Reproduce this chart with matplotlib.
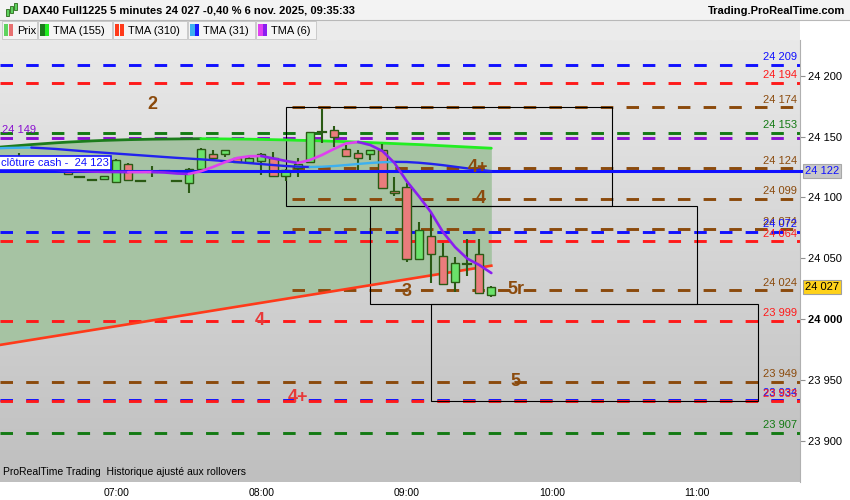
import numpy as np
import matplotlib.pyplot as plt
import matplotlib.transforms as mtransforms
from matplotlib.colors import LinearSegmentedColormap
from matplotlib.patches import Rectangle
from matplotlib.lines import Line2D

plt.rcParams['lines.scale_dashes'] = False
plt.rcParams['font.family'] = ['Liberation Sans', 'DejaVu Sans']

W, H = 850, 500

# bar index 0 = 07:00, one bar = 5 minutes
bar_idx = list(range(-9, 32))
opens = [24124, 24127, 24126, 24124, 24125, 24123.4, 24117, 24114.3, 24115.2, 24112.7,
         24127.5, 24113.5, 24120.9, 24121.7, 24113.5, 24111.9, 24123.4, 24135.7, 24135.7, 24132.4,
         24129.1, 24129.9, 24132.4, 24117.6, 24124.2, 24129.1, 24153.5, 24155.3, 24139.8, 24136.5,
         24135.7, 24138.9, 24105.3, 24108.6, 24049.6, 24068.4, 24052.1, 24030.7, 24045.5, 24053.7,
         24020]
highs = [24127, 24136.5, 24128, 24127, 24126, 24125, 24117.5, 24114.8, 24118, 24131.6,
         24128, 24114, 24125.8, 24122, 24114, 24124, 24140.6, 24138.9, 24139, 24133,
         24133, 24136.5, 24137.3, 24123, 24132.4, 24154, 24172.5, 24158.6, 24143, 24138.9,
         24139.3, 24143.9, 24116.8, 24111.9, 24079.9, 24087.3, 24062.7, 24051.2, 24066, 24066,
         24027.5]
lows = [24121, 24124, 24122, 24121, 24120, 24118.5, 24116.5, 24113.8, 24115, 24111.9,
        24114, 24113, 24116.8, 24121.4, 24113, 24103.7, 24123, 24132, 24133.2, 24128.5,
        24128.5, 24118.4, 24117, 24113.5, 24116.8, 24128.5, 24144.7, 24141.4, 24133.5, 24120.1,
        24130.7, 24107, 24101.2, 24047.1, 24049, 24029.9, 24028.5, 24022.5, 24035.7, 24021,
        24018.4]
closes = [24125, 24128, 24124, 24125, 24122, 24119.3, 24117, 24114.3, 24117.6, 24130.7,
          24114.3, 24113.5, 24120.9, 24121.7, 24113.5, 24123.4, 24139.8, 24132.4, 24138.9, 24129.1,
          24132.4, 24135.7, 24117.6, 24122.5, 24127.5, 24153.7, 24154, 24149.6, 24134, 24132.4,
          24138.9, 24107.8, 24103.7, 24049.6, 24073.4, 24053.7, 24029.1, 24046.3, 24045.8, 24021.7,
          24027]

ma_idx = list(range(-10, 32))
tma155 = [24141.0, 24141.8, 24142.6, 24143.4, 24144.1, 24144.8, 24145.4, 24145.9, 24146.4, 24146.8,
          24147.1, 24147.4, 24147.6, 24147.8, 24147.9, 24148.0, 24148.1, 24148.2, 24148.1, 24148.0,
          24147.9, 24147.8, 24147.6, 24147.4, 24147.2, 24146.9, 24146.7, 24146.4, 24146.1, 24145.8,
          24145.4, 24145.0, 24144.6, 24144.2, 24143.8, 24143.4, 24142.9, 24142.4, 24141.9, 24141.4,
          24140.9, 24140.4]
tma310 = [23978.5, 23980.1, 23981.7, 23983.3, 23984.9, 23986.5, 23988.1, 23989.7, 23991.3, 23992.9,
          23994.5, 23996.1, 23997.7, 23999.3, 24000.9, 24002.5, 24004.1, 24005.7, 24007.3, 24008.9,
          24010.5, 24012.1, 24013.7, 24015.3, 24016.9, 24018.5, 24020.1, 24021.7, 24023.3, 24024.9,
          24026.5, 24028.1, 24029.7, 24031.3, 24032.9, 24034.5, 24036.1, 24037.7, 24039.3, 24040.9,
          24042.5, 24044.1]
tma31 = [24140.2, 24140.6, 24140.8, 24140.9, 24140.4, 24139.8, 24139.0, 24138.2, 24137.4, 24136.7,
         24136.0, 24135.3, 24134.6, 24133.9, 24133.2, 24132.5, 24131.9, 24131.3, 24130.6, 24129.8,
         24129.0, 24128.2, 24127.4, 24126.6, 24125.8, 24125.3, 24125.0, 24125.2, 24125.8, 24126.6,
         24127.5, 24128.3, 24128.9, 24129.2, 24129.1, 24128.5, 24127.6, 24126.5, 24125.2, 24123.9,
         24122.7, 24121.6]
tma6 = [24126.0, 24125.5, 24125.0, 24124.2, 24123.5, 24122.8, 24122.2, 24121.7, 24121.3, 24121.0,
        24120.9, 24120.8, 24120.8, 24120.9, 24120.5, 24119.7, 24119.3, 24121.5, 24125.0, 24129.0,
        24132.4, 24133.8, 24134.0, 24132.0, 24130.0, 24128.3, 24130.7, 24134.8, 24139.8, 24144.3,
        24145.5, 24143.0, 24138.1, 24128.3, 24113.5, 24101.2, 24088.1, 24071.7, 24059.4, 24050.0,
        24044.7, 24038.1]

# horizontal levels
level_prices = [24209, 24194, 24174, 24153, 24149, 24124, 24099, 24074, 24072, 24064,
                24024, 23999, 23949, 23934, 23933, 23907]
level_colors = ['#1010ff', '#ff1a1a', '#8b4a0c', '#137a13', '#8a10d0', '#8b4a0c', '#8b4a0c', '#8b4a0c',
                '#1010ff', '#ff1a1a', '#8b4a0c', '#ff1a1a', '#8b4a0c', '#1010ff', '#ff1a1a', '#137a13']
level_labels = ['24 209', '24 194', '24 174', '24 153', '', '24 124', '24 099', '24 074',
                '24 072', '24 064', '24 024', '23 999', '23 949', '23 934', '23 933', '23 907']
level_start = [-9.6, -9.6, 14.5, -9.6, -9.6, 14.5, 14.5, 14.5, -9.6, -9.6,
               14.5, -9.6, -9.6, -9.6, -9.6, -9.6]
cash_close = 24122

# rectangles (bar index, price)
box_left = [14, 21, 26]
box_right = [41, 48, 53]
box_top = [24174, 24093, 24013]
box_bottom = [24093, 24013, 23933]

# wave labels
note_text = ['2', '4+', '4', '3', '5r', '5', '4', '4+']
note_x = [3.0, 29.9, 30.1, 24.0, 33.0, 33.0, 11.9, 15.0]
note_y = [24176.6, 24125, 24098.8, 24023, 24024.6, 23949, 23998.8, 23935.7]
note_col = ['#8b4a0c'] * 6 + ['#e83838'] * 2

time_ticks = [0, 12, 24, 36, 48]
time_labels = ['07:00', '08:00', '09:00', '10:00', '11:00']
price_ticks = [23900, 23950, 24000, 24050, 24100, 24150, 24200]

XMIN, XMAX = -9.59, 56.5
YMIN, YMAX = 23866.8, 24229.1

fig = plt.figure(figsize=(W / 100, H / 100), dpi=100)
fig.patch.set_facecolor('white')


def fpx(x, y):
    return x / W, 1 - y / H


def frect(x0, y0, x1, y1, fc, ec='none', lw=0.8):
    r = Rectangle((x0 / W, 1 - y1 / H), (x1 - x0) / W, (y1 - y0) / H,
                  transform=fig.transFigure, facecolor=fc, edgecolor=ec, lw=lw)
    fig.add_artist(r)


# header
frect(0, 0, W, 20, '#f3f3f3')
fig.add_artist(Line2D([0, 1], [1 - 20 / H] * 2, transform=fig.transFigure, color='#b8b8b8', lw=0.8))
frect(0, 20, 800, 40, '#ebebeb')
for x0, x1, y0, y1 in [(6, 9, 9, 16), (10, 13, 6, 13), (14, 17, 3, 10)]:
    frect(x0, y0, x1, y1, '#5fd35f', '#2a6a1a', 0.6)
fig.text(*fpx(23, 10.5), 'DAX40 Full1225 5 minutes 24 027 -0,40 % 6 nov. 2025, 09:35:33',
         fontsize=8, fontweight='bold', va='center', ha='left')
fig.text(*fpx(845, 10.5), 'Trading.ProRealTime.com', fontsize=8, fontweight='bold',
         va='center', ha='right')

legend_cells = [(2, 37, 'Prix', ('#5fd35f', '#e87070')),
                (38, 112, 'TMA (155)', ('#1c7c1c', '#22ee22')),
                (113, 187, 'TMA (310)', ('#ff3a1a', '#ff3a1a')),
                (188, 255, 'TMA (31)', ('#3cb0f0', '#1a1aff')),
                (256, 316, 'TMA (6)', ('#e040f0', '#8a1ef0'))]
for x0, x1, name, (c1, c2) in legend_cells:
    frect(x0, 21, x1, 39, '#f4f4f4', '#c4c4c4', 0.6)
    frect(x0 + 2, 24, x0 + 6.5, 36, c1)
    frect(x0 + 6.5, 24, x0 + 11, 36, c2)
    fig.text(*fpx(x0 + 15, 30.5), name, fontsize=8, va='center', ha='left')

ax = fig.add_axes([0, 18 / H, 800 / W, 442 / H])
ax.set_xlim(XMIN, XMAX)
ax.set_ylim(YMIN, YMAX)

# background gradient
bg = LinearSegmentedColormap.from_list('bg', ['#bfbfbf', '#e9e9e9'])
ax.imshow(np.linspace(0, 1, 256).reshape(-1, 1), extent=[XMIN, XMAX, YMIN, YMAX],
          origin='lower', aspect='auto', cmap=bg, zorder=0)

# zone between the two long averages
ax.fill_between(ma_idx, tma310, tma155, color='#a6c3a3', lw=0, zorder=1)

# horizontal levels
for p, c, s in zip(level_prices, level_colors, level_start):
    ax.plot([s, XMAX], [p, p], color=c, lw=2.1, dashes=(9, 9.5), zorder=2,
            solid_capstyle='butt', dash_capstyle='butt')
ax.plot([XMIN, XMAX + 0.6], [cash_close, cash_close], color='#1010ff', lw=2.2, zorder=7,
        clip_on=False)

# boxes
for l, r, t, b in zip(box_left, box_right, box_top, box_bottom):
    ax.add_patch(Rectangle((l, b), r - l, t - b, fill=False, ec='black', lw=0.8, zorder=3))

# candles
edge = '#2a5a14'
for k, o, h, l, c in zip(bar_idx, opens, highs, lows, closes):
    ax.plot([k, k], [l, h], color=edge, lw=1.5, zorder=5, solid_capstyle='butt')
    if abs(c - o) < 1:
        ax.plot([k - 0.36, k + 0.36], [o, o], color=edge, lw=1.6, zorder=6)
    else:
        ax.bar(k, abs(c - o), bottom=min(o, c), width=0.68,
               color='#6ae26a' if c > o else '#ea7c7c', edgecolor=edge, lw=1.0, zorder=6)


def slope_line(xs, ys, up, down, lw, z):
    xs = np.asarray(xs, float)
    ys = np.asarray(ys, float)
    d = np.diff(ys)
    start = 0
    for i in range(1, len(d) + 1):
        if i == len(d) or (d[i] >= 0) != (d[start] >= 0):
            col = up if d[start] >= 0 else down
            ax.plot(xs[start:i + 1], ys[start:i + 1], color=col, lw=lw, zorder=z,
                    solid_capstyle='round')
            start = i


slope_line(ma_idx, tma155, '#1c7c1c', '#22ee22', 2.0, 4)
ax.plot(ma_idx, tma310, color='#ff3a1a', lw=1.9, zorder=4)
slope_line(ma_idx, tma31, '#3cb0f0', '#2222ee', 1.7, 8)
slope_line(ma_idx, tma6, '#e040f0', '#8a1ef0', 1.9, 8)

# level labels inside the plot, right side
for p, c, t in zip(level_prices, level_colors, level_labels):
    if t:
        ax.annotate(t, xy=(0.996, p), xycoords=('axes fraction', 'data'),
                    xytext=(0, 1.8), textcoords='offset points',
                    ha='right', va='bottom', fontsize=8, color=c, zorder=9)
ax.annotate('24 149', xy=(0.003, 24149), xycoords=('axes fraction', 'data'),
            xytext=(0, 2), textcoords='offset points', ha='left', va='bottom',
            fontsize=8, color='#8a10d0', zorder=9)
ax.text(0.001, 24128.3, 'clôture cash -  24 123', transform=ax.get_yaxis_transform(),
        fontsize=8, color='#1010ff', ha='left', va='center', zorder=10,
        bbox=dict(boxstyle='square,pad=0.22', fc='white', ec='#1010ff', lw=1.2))

for t, x, y, c in zip(note_text, note_x, note_y, note_col):
    ax.text(x, y, t, color=c, fontsize=13, fontweight='bold', ha='center', va='center', zorder=9)

ax.text(0.004, 0.012, 'ProRealTime Trading  Historique ajusté aux rollovers',
        transform=ax.transAxes, fontsize=7.5, ha='left', va='bottom',
        family=['Liberation Sans Narrow', 'Liberation Sans'], zorder=9)

# axes
for s in ['top', 'left', 'bottom']:
    ax.spines[s].set_visible(False)
ax.spines['right'].set_color('#b0b0b0')
ax.yaxis.tick_right()
ax.set_yticks(price_ticks)
ax.set_yticklabels([f'{p:,}'.replace(',', ' ') for p in price_ticks], fontsize=8)
for lab in ax.get_yticklabels():
    if lab.get_text() == '24 000':
        lab.set_fontweight('bold')
ax.tick_params(axis='y', length=3.5, width=0.8, color='#909090', pad=2)
ax.set_xticks(time_ticks)
ax.set_xticklabels(time_labels, fontsize=7.5, family=['Liberation Sans Narrow', 'Liberation Sans'])
ax.tick_params(axis='x', length=0, pad=4)

# price flags on the right scale
ytr = ax.get_yaxis_transform()
ax.text(1.006, 24027, '24 027', transform=ytr, fontsize=8, ha='left', va='center', zorder=10,
        clip_on=False, bbox=dict(boxstyle='square,pad=0.18', fc='#ffd21a', ec='#a0a0a0', lw=0.8))
ax.text(1.006, cash_close, '24 122', transform=ytr, fontsize=8, ha='left', va='center',
        color='#1010ff', zorder=10, clip_on=False,
        bbox=dict(boxstyle='square,pad=0.18', fc='#c8c8c8', ec='#a8a8a8', lw=0.8))

fig.savefig('out.png', dpi=100)
